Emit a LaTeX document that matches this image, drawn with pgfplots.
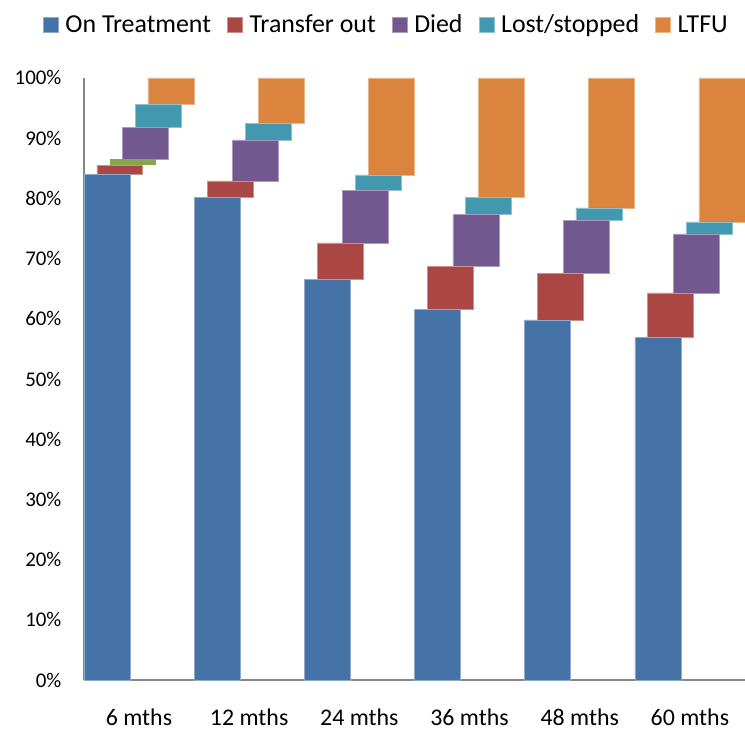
\documentclass[border=0pt]{standalone}
\usepackage{fontspec}
\setmainfont{Carlito}
\usepackage{pgfplots}
\usepackage{pgfplotstable}
\pgfplotsset{compat=1.18}
\definecolor{cBlue}{HTML}{4572A7}
\definecolor{cRed}{HTML}{AA4643}
\definecolor{cGreen}{HTML}{89A54E}
\definecolor{cPurple}{HTML}{71588F}
\definecolor{cTeal}{HTML}{4198AF}
\definecolor{cOrange}{HTML}{DB843D}
\pgfplotstableread{
x ont tro gre died lost ltfu
0 84.0 1.5 0.95 5.35 3.8 4.4
1 80.15 2.75 0 6.8 2.8 7.5
2 66.6 6.0 0 8.7 2.6 16.1
3 61.5 7.2 0 8.6 2.9 19.8
4 59.8 7.8 0 8.8 2.0 21.6
5 56.9 7.4 0 9.8 2.0 23.9
}\data
\begin{document}
\begin{tikzpicture}
\begin{axis}[
  scale only axis, width=662bp, height=603bp,
  xmin=-0.5, xmax=5.5, ymin=0, ymax=100,
  ybar stacked, bar width=0.417,
  axis x line*=bottom, axis y line*=left,
  axis line style={-, draw=black!47, line width=1.3pt},
  xtick={0,...,5},
  xticklabels={6 mths,12 mths,24 mths,36 mths,48 mths,60 mths},
  ytick={0,10,...,100},
  yticklabel={\pgfmathprintnumber{\tick}\%},
  major tick length=0pt,
  /pgf/number format/assume math mode=true,
  yticklabel style={font=\fontsize{21}{24}\selectfont, xshift=-19bp},
  xticklabel style={font=\fontsize{24}{27}\selectfont, yshift=-25bp},
  legend style={at={(0.456,1.0887)}, anchor=center, draw=none,
    legend columns=-1, font=\fontsize{26}{29}\selectfont,
    nodes={inner sep=0pt},
    /tikz/every odd column/.append style={column sep=7bp},
    /tikz/every even column/.append style={column sep=16bp}},
  legend image code/.code={\fill[#1] (0bp,-7.5bp) rectangle (15bp,7.5bp);},
]
\addplot[fill=cBlue, draw=cBlue!60!white, line width=0.6pt, bar shift=-0.29] table[x=x,y=ont]{\data};
\addlegendentry{On Treatment}
\addplot[fill=cRed, draw=cRed!60!white, line width=0.6pt, bar shift=-0.174] table[x=x,y=tro]{\data};
\addlegendentry{Transfer out}
\addplot[fill=cGreen, draw=none, bar shift=-0.058, forget plot] table[x=x,y=gre]{\data};
\addplot[fill=cPurple, draw=cPurple!60!white, line width=0.6pt, bar shift=0.058] table[x=x,y=died]{\data};
\addlegendentry{Died}
\addplot[fill=cTeal, draw=cTeal!60!white, line width=0.6pt, bar shift=0.174] table[x=x,y=lost]{\data};
\addlegendentry{Lost/stopped}
\addplot[fill=cOrange, draw=cOrange!60!white, line width=0.6pt, bar shift=0.29] table[x=x,y=ltfu]{\data};
\addlegendentry{LTFU}
\end{axis}
\path (current axis.south west) ++(-84bp,-51bp) coordinate (bl);
\path (current axis.north east) ++(0bp,78bp) coordinate (tr);
\pgfresetboundingbox
\path[use as bounding box] (bl) rectangle (tr);
\end{tikzpicture}
\end{document}
